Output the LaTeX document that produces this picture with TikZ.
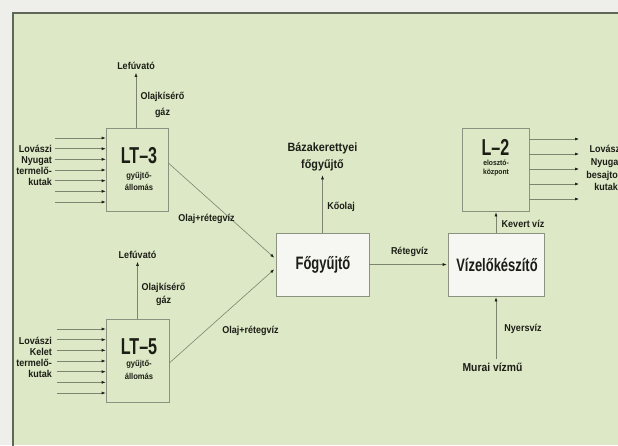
\documentclass[tikz,border=0pt]{standalone}
\usepackage{fontspec}
\setmainfont{Liberation Sans}
\newfontfamily\flab[FakeStretch=0.9]{Liberation Sans}
\newfontfamily\fbigc[FakeStretch=0.7]{Liberation Sans}
\newfontfamily\fmidc[FakeStretch=0.72]{Liberation Sans}
\usetikzlibrary{arrows.meta}
\definecolor{bgc}{RGB}{221,232,198}
\definecolor{outc}{RGB}{238,238,235}
\definecolor{framec}{RGB}{95,104,88}
\definecolor{ink}{RGB}{28,30,22}
\definecolor{linec}{RGB}{125,132,112}
\definecolor{boxc}{RGB}{140,146,128}
\definecolor{whitebox}{RGB}{246,247,242}
\tikzset{
  lab/.style={font=\flab\bfseries\fontsize{10}{10.5}\selectfont, text=ink, inner sep=0pt, align=center},
  sublab/.style={font=\flab\bfseries\fontsize{8.5}{10}\selectfont, text=ink, inner sep=0pt, align=center},
  biglab/.style={font=\fbigc\bfseries\fontsize{23}{24}\selectfont, text=ink, inner sep=0pt},
  midlab/.style={font=\fmidc\bfseries\fontsize{18}{20}\selectfont, text=ink, inner sep=0pt},
  srclab/.style={font=\flab\bfseries\fontsize{12}{17}\selectfont, text=ink, inner sep=0pt, align=center},
  wellslab/.style={font=\flab\bfseries\fontsize{10}{11}\selectfont, text=ink, inner sep=0pt},
  stationbox/.style={draw=boxc, line width=0.6pt, inner sep=0pt},
  whitestep/.style={draw=boxc, fill=whitebox, line width=0.6pt, inner sep=0pt},
  conn/.style={draw=linec, line width=0.6pt, -{Latex[length=4pt,width=3pt,color=ink]}},
}
\begin{document}
\begin{tikzpicture}[x=1pt,y=-1pt]
\useasboundingbox (0,0) rectangle (618,445);
\fill[outc] (0,0) rectangle (618,445);
\fill[bgc] (13,13) rectangle (618,445);
\draw[framec, line width=1.4pt] (12.5,13) -- (619,13);
\draw[framec, line width=2.2pt] (13,446) -- (13,12.3);

% boxes
\node[stationbox, minimum width=62pt, minimum height=83pt] (lt3) at (137,169.5) {};
\node[stationbox, minimum width=63pt, minimum height=83pt] (lt5) at (137.5,360.5) {};
\node[whitestep, minimum width=93pt, minimum height=63pt] (fo) at (322.5,264.5) {};
\node[whitestep, minimum width=96pt, minimum height=63pt] (viz) at (496,264.5) {};
\node[stationbox, minimum width=67pt, minimum height=83pt] (l2) at (495.5,169.5) {};

% box texts
\node[biglab] (lt3t) at (139,156) {LT–3};
\node[sublab] (lt3s) at (139,181.5) {gyűjtő-\\[2.5pt]állomás};
\node[biglab] (lt5t) at (139,347) {LT–5};
\node[sublab] (lt5s) at (139,370) {gyűjtő-\\[2.5pt]állomás};
\node[biglab] (l2t) at (495.5,147.5) {L–2};
\node[sublab, font=\flab\bfseries\fontsize{7.5}{9}\selectfont] (l2s) at (496,168) {elosztó-\\központ};
\node[midlab] (fot) at (323,265) {Főgyűjtő};
\node[midlab] (vizt) at (497,265) {Vízelőkészítő};

% LT-3 inputs
\foreach \i/\y in {1/138,2/148.7,3/159.3,4/170,5/180.7,6/191.3,7/202}{
  \coordinate (a\i) at (55,\y);
  \draw[conn] (a\i) -- (a\i -| lt3.west);
}
\node[wellslab, align=right, anchor=east] (in3) at (52,165) {Lovászi\\Nyugat\\termelő-\\kutak};

% LT-5 inputs
\foreach \i/\y in {1/329,2/339.7,3/350.3,4/361,5/371.7,6/382.3,7/393}{
  \coordinate (b\i) at (57,\y);
  \draw[conn] (b\i) -- (b\i -| lt5.west);
}
\node[wellslab, align=right, anchor=east] (in5) at (52,357) {Lovászi\\Kelet\\termelő-\\kutak};

% gas outlets
\node[lab] (lef3) at (136,66) {Lefúvató};
\draw[conn, shorten >=3pt] (lt3.north -| lef3) -- (lef3.south);
\node[lab] (olk3) at (162.5,105) {Olajkísérő\\[6pt]gáz};
\node[lab] (lef5) at (137.5,255) {Lefúvató};
\draw[conn, shorten >=3pt] (lt5.north -| lef5) -- (lef5.south);
\node[lab] (olk5) at (163.5,294.5) {Olajkísérő\\[2.5pt]gáz};

% to main collector
\draw[conn, shorten >=2pt] ([yshift=6.5pt]lt3.east) -- ([yshift=5.5pt]fo.west);
\draw[conn, shorten >=2pt] ([yshift=-2.5pt]lt5.east) -- ([yshift=-3.5pt]fo.west);
\node[lab] (ow3) at (206.5,219) {Olaj+rétegvíz};
\node[lab] (ow5) at (250.5,331) {Olaj+rétegvíz};

% crude oil out
\node[srclab] (baz) at (322.5,157) {Bázakerettyei\\főgyűjtő};
\draw[conn, shorten >=4pt] (fo.north) -- (fo.north |- baz.south);
\node[lab] (koolaj) at (341,207) {Kőolaj};

% water
\draw[conn, shorten >=1pt] (fo.east) -- (viz.west);
\node[lab] (reteg) at (409.5,252) {Rétegvíz};
\draw[conn, shorten >=1pt] (viz.north) -- (viz.north |- l2.south);
\node[lab] (kevert) at (523,224) {Kevert víz};

% L-2 outputs
\foreach \i/\y in {1/139,2/154,3/169,4/184,5/199}{
  \coordinate (c\i) at (579,\y);
  \draw[conn] (c\i -| l2.east) -- (c\i);
}
\node[lab, align=center, font=\flab\bfseries\fontsize{10}{12.8}\selectfont] (out2) at (606,168) {Lovászi\\Nyugat\\besajtoló\\kutak};

% raw water
\node[srclab, font=\flab\bfseries\fontsize{11.5}{13}\selectfont] (murai) at (492.5,367) {Murai vízmű};
\draw[conn, shorten <=4pt, shorten >=1pt] (viz.south |- murai.north) -- (viz.south);
\node[lab] (nyers) at (523,329) {Nyersvíz};
\end{tikzpicture}
\end{document}
